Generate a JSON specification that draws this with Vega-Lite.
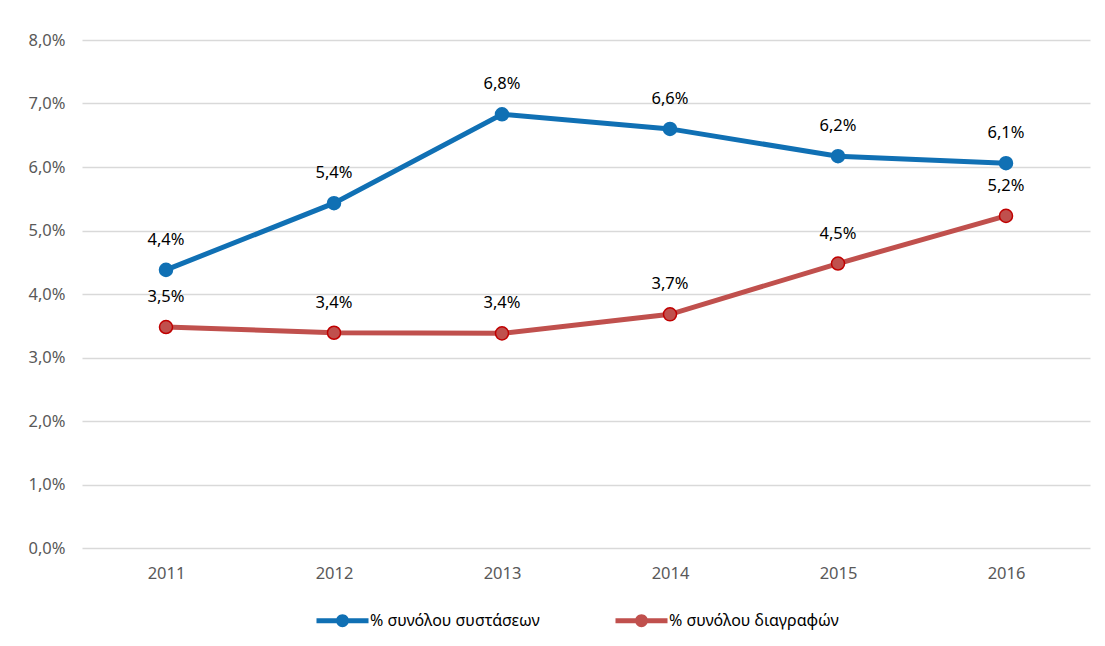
{
  "$schema": "https://vega.github.io/schema/vega-lite/v6.json",
  "width": 1008,
  "height": 508,
  "autosize": {"type": "none"},
  "padding": {"left": 82, "top": 40, "right": 15, "bottom": 98},
  "background": "white",
  "config": {
    "locale": {"number": {"decimal": ",", "thousands": ".", "grouping": [3], "currency": ["", "€"]}},
    "view": {"stroke": null},
    "font": "Noto Sans"
  },
  "data": {
    "values": [
      {"year": "2011", "series": "% συνόλου συστάσεων", "value": 0.0438},
      {"year": "2012", "series": "% συνόλου συστάσεων", "value": 0.0543},
      {"year": "2013", "series": "% συνόλου συστάσεων", "value": 0.0683},
      {"year": "2014", "series": "% συνόλου συστάσεων", "value": 0.0660},
      {"year": "2015", "series": "% συνόλου συστάσεων", "value": 0.0617},
      {"year": "2016", "series": "% συνόλου συστάσεων", "value": 0.0606},
      {"year": "2011", "series": "% συνόλου διαγραφών", "value": 0.0348},
      {"year": "2012", "series": "% συνόλου διαγραφών", "value": 0.0339},
      {"year": "2013", "series": "% συνόλου διαγραφών", "value": 0.0338},
      {"year": "2014", "series": "% συνόλου διαγραφών", "value": 0.0368},
      {"year": "2015", "series": "% συνόλου διαγραφών", "value": 0.0448},
      {"year": "2016", "series": "% συνόλου διαγραφών", "value": 0.0523}
    ]
  },
  "encoding": {
    "x": {
      "field": "year", "type": "ordinal",
      "scale": {"type": "point", "padding": 0.5},
      "axis": {"title": null, "labelAngle": 0, "ticks": false, "domain": false, "grid": false,
               "labelColor": "#595959", "labelFontSize": 16.5, "labelPadding": 17}
    },
    "y": {
      "field": "value", "type": "quantitative",
      "scale": {"domain": [0, 0.08]},
      "axis": {"title": null, "format": ".1%", "values": [0, 0.01, 0.02, 0.03, 0.04, 0.05, 0.06, 0.07, 0.08],
               "ticks": false, "domain": false, "gridColor": "#d9d9d9", "gridWidth": 1.5,
               "labelColor": "#595959", "labelFontSize": 16.5, "labelPadding": 17}
    }
  },
  "layer": [
    {
      "mark": {"type": "line", "strokeWidth": 5},
      "encoding": {
        "color": {
          "field": "series", "type": "nominal",
          "scale": {"domain": ["% συνόλου συστάσεων", "% συνόλου διαγραφών"], "range": ["#1070b4", "#c0504d"]},
          "legend": {
            "orient": "none", "legendX": 250, "legendY": 570, "direction": "horizontal", "title": null,
            "symbolType": "M-2.5,-0.24H2.5V0.24H-2.5Z M0.62,0A0.62,0.62,0,1,1,-0.62,0A0.62,0.62,0.0,1,1,0.62,0Z",
            "symbolSize": 433, "symbolStrokeWidth": 0, "labelFontSize": 16, "labelColor": "#000000",
            "labelOffset": 17, "columnPadding": 75, "labelLimit": 500,
            "encode": {"symbols": {"update": {"fill": {"scale": "color", "field": "value"}, "opacity": {"value": 1}}}}
          }
        }
      }
    },
    {
      "mark": {"type": "point", "filled": true, "size": 170, "opacity": 1, "strokeWidth": 1.5},
      "encoding": {
        "color": {"field": "series", "type": "nominal", "legend": null},
        "stroke": {"field": "series", "type": "nominal",
                   "scale": {"domain": ["% συνόλου συστάσεων", "% συνόλου διαγραφών"], "range": ["#1070b4", "#c00000"]},
                   "legend": null}
      }
    },
    {
      "mark": {"type": "text", "dy": -30, "fontSize": 16.5, "color": "#000000"},
      "encoding": {"text": {"field": "value", "type": "quantitative", "format": ".1%"}}
    }
  ]
}
